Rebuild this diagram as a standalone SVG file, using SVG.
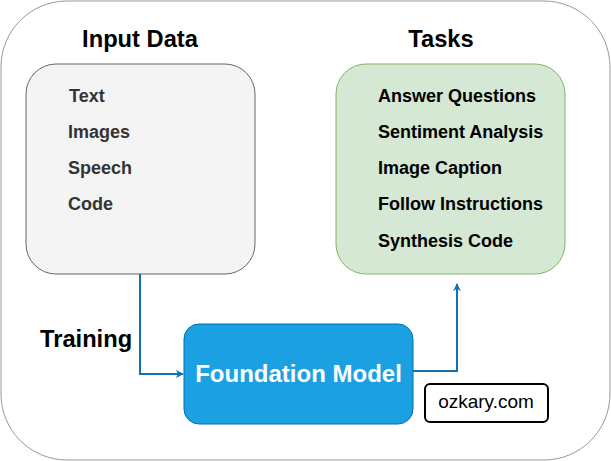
<svg xmlns="http://www.w3.org/2000/svg" width="611" height="461" viewBox="0 0 611 461">
<style>
text{font-family:"Liberation Sans",Arial,sans-serif;font-weight:bold}
.title{font-size:23.7px;fill:#000;text-anchor:middle}
.item{font-size:18px;fill:#333}
.task{font-size:18px;fill:#000}
.conn{fill:none;stroke:#0e72b5;stroke-width:2}
</style>
<defs>
<marker id="arr" viewBox="0 0 10 10" refX="9" refY="5" markerWidth="8" markerHeight="8" markerUnits="userSpaceOnUse" orient="auto">
<path d="M0,0 L10,5 L0,10 L3,5 Z" fill="#0e72b5"/>
</marker>
</defs>
<rect id="container" x="1" y="1" width="609" height="459" rx="66" ry="66" fill="#fff" stroke="#999" stroke-width="1"/>
<text class="title" x="140" y="47">Input Data</text>
<text class="title" x="441" y="47">Tasks</text>
<g id="input">
<rect x="26" y="64" width="229" height="210" rx="30" ry="30" fill="#f4f4f4" stroke="#666" stroke-width="1"/>
<text class="item" x="69" y="102">Text</text>
<text class="item" x="68" y="138">Images</text>
<text class="item" x="68" y="174">Speech</text>
<text class="item" x="68" y="210">Code</text>
</g>
<g id="tasks">
<rect x="336" y="64" width="229" height="210" rx="30" ry="30" fill="#d5e8d4" stroke="#82b366" stroke-width="1"/>
<text class="task" x="378" y="102">Answer Questions</text>
<text class="task" x="378" y="138">Sentiment Analysis</text>
<text class="task" x="378" y="174">Image Caption</text>
<text class="task" x="378" y="210">Follow Instructions</text>
<text class="task" x="378" y="247">Synthesis Code</text>
</g>
<g id="training">
<text x="40" y="347" style="font-size:23.7px;fill:#000">Training</text>
</g>
<g id="connectors">
<path class="conn" d="M140,274 V374 H183" marker-end="url(#arr)"/>
<path class="conn" d="M413,371 H457 V284" marker-end="url(#arr)"/>
</g>
<g id="foundation">
<rect x="184" y="324" width="229" height="100" rx="15" ry="15" fill="#1ba1e2" stroke="#006eaf" stroke-width="1"/>
<text x="298.5" y="382" style="font-size:24px;fill:#fff;text-anchor:middle">Foundation Model</text>
</g>
<g id="ozkary">
<rect x="425" y="384" width="123" height="38" rx="5" ry="5" fill="#fff" stroke="#000" stroke-width="2"/>
<text x="486" y="408" style="font-size:19px;font-weight:normal;fill:#000;text-anchor:middle">ozkary.com</text>
</g>
</svg>
